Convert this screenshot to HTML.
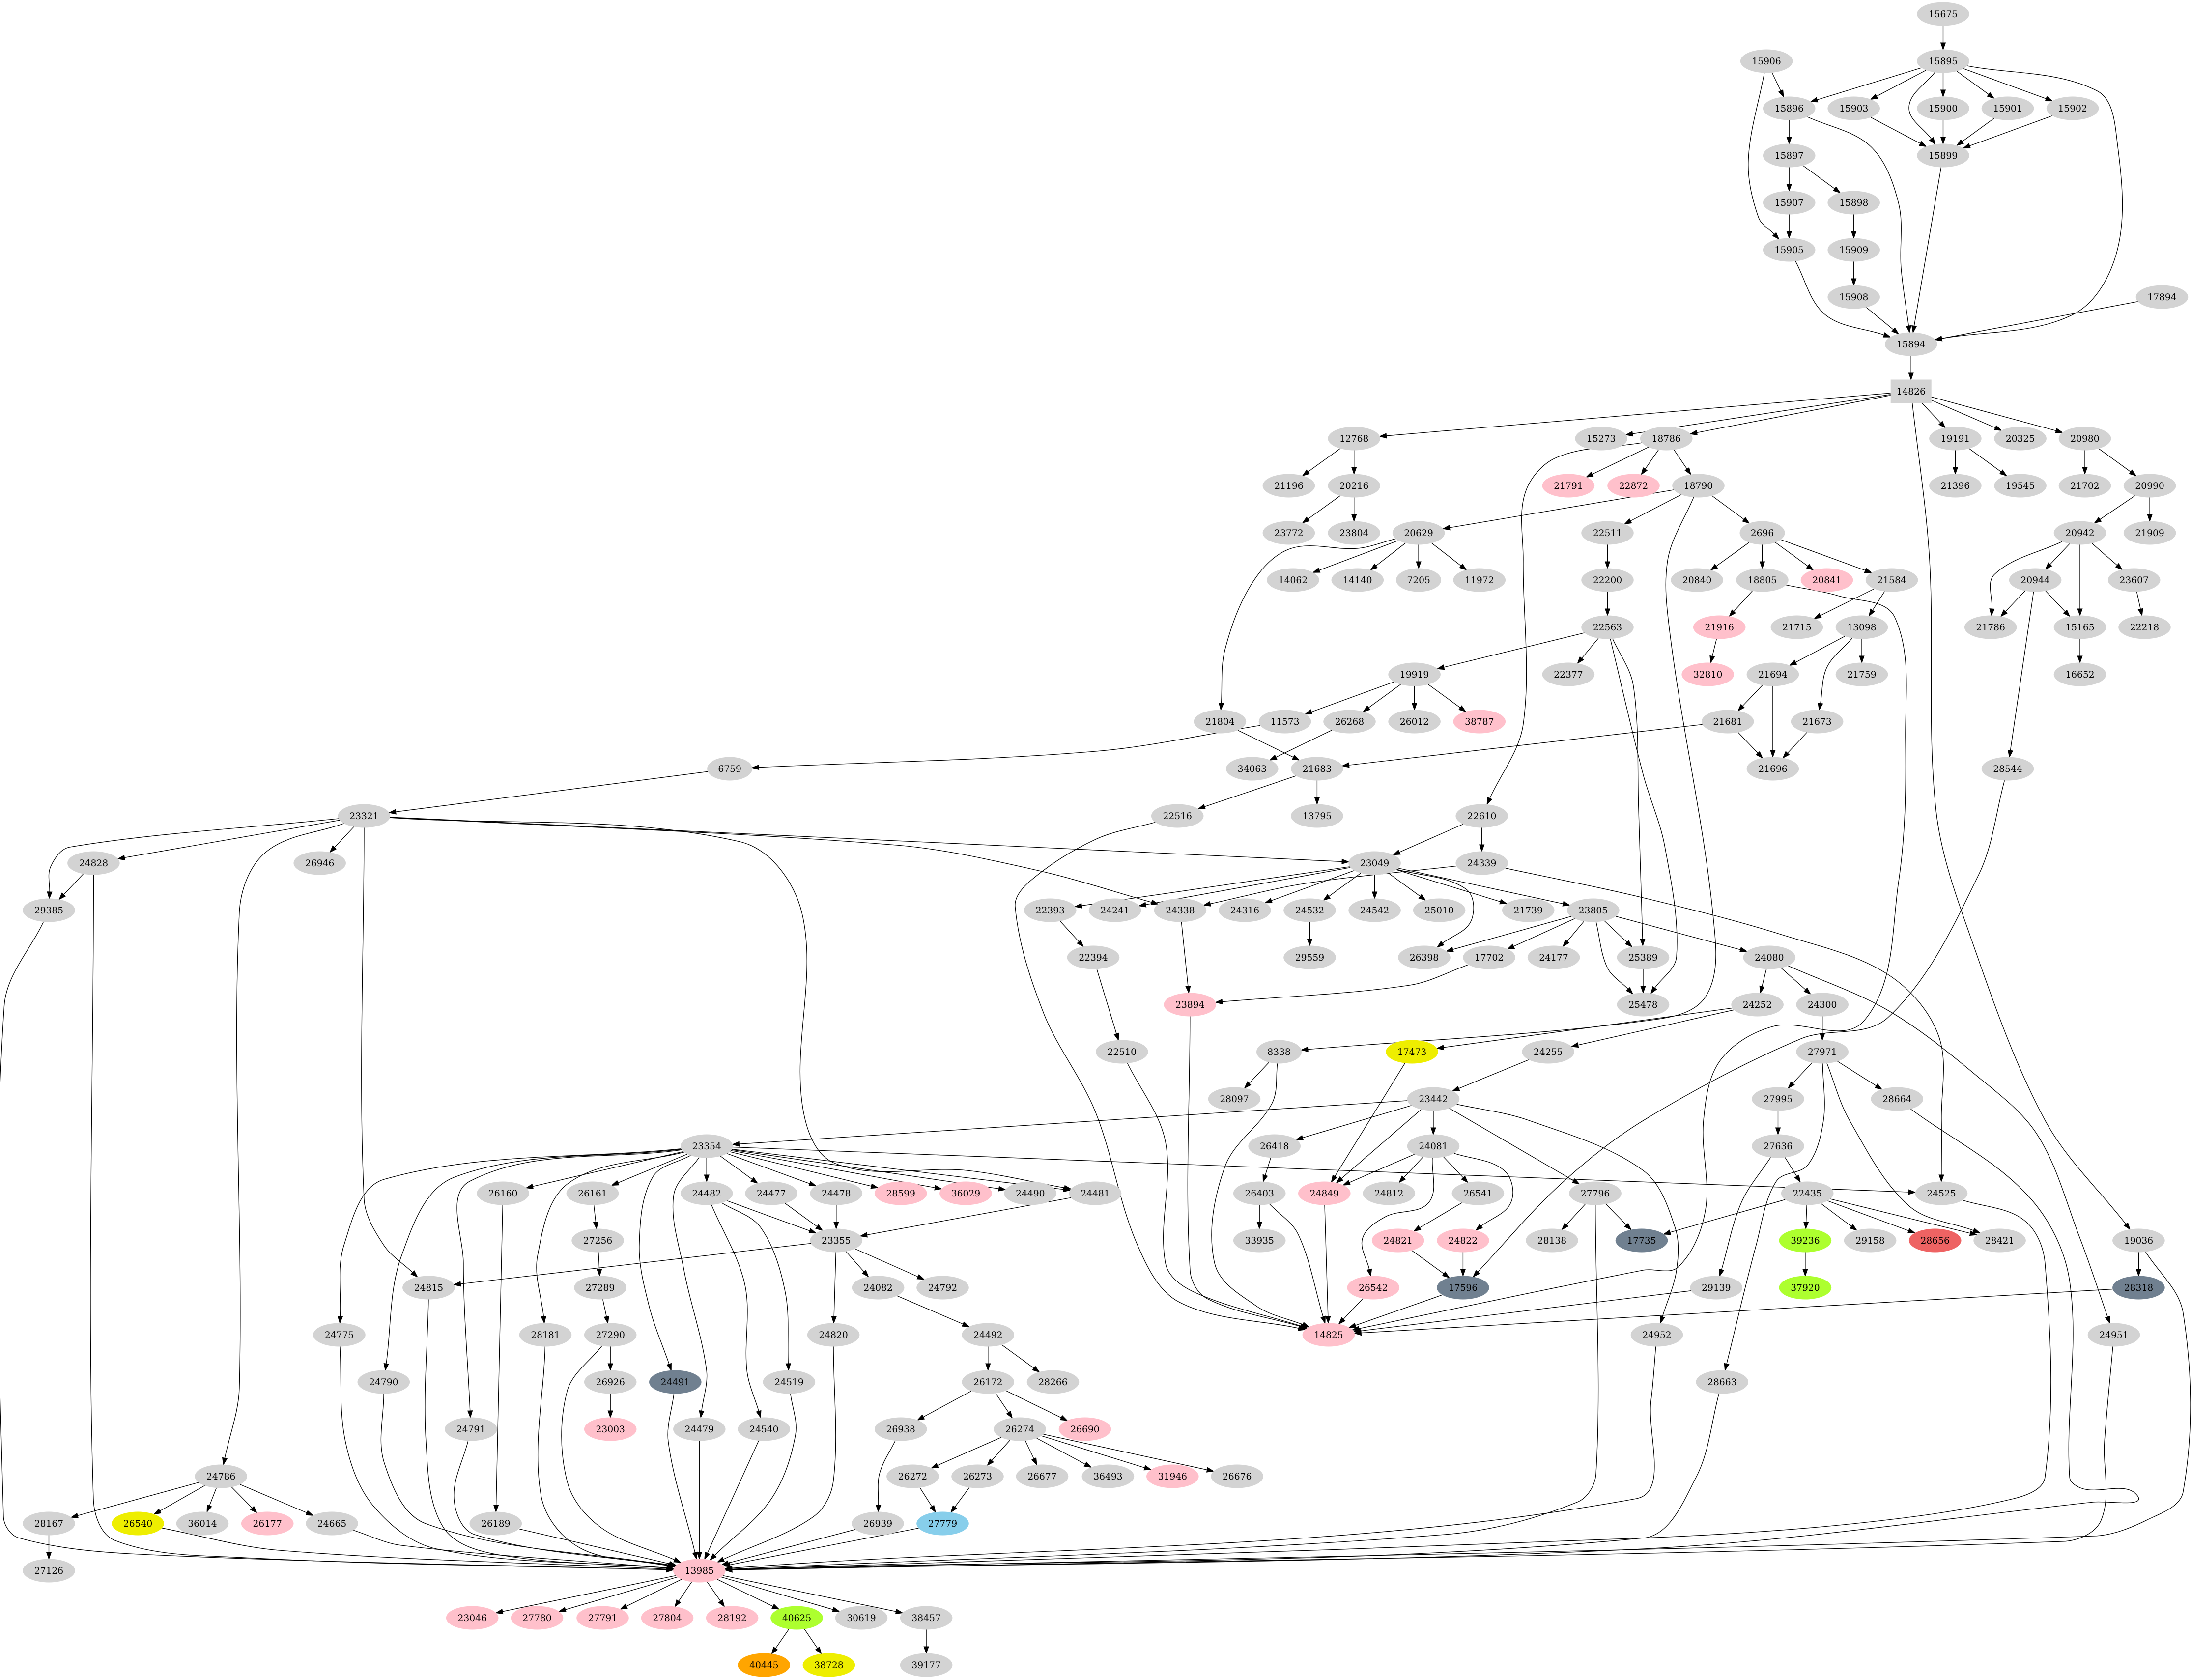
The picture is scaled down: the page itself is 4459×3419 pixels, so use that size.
<!DOCTYPE html>
<html><head><meta charset="utf-8"><style>
html,body{margin:0;padding:0;background:#fff}
svg{display:block}
.g{fill:#d3d3d3}.p{fill:#ffc0cb}.s{fill:#708090}.y{fill:#eeee00}.gr{fill:#adff2f}.r{fill:#ee6363}.b{fill:#87ceeb}.o{fill:#ffa500}
text{font-family:"DejaVu Serif","Liberation Serif",serif;font-size:18.67px;text-anchor:middle;fill:#000}
</style></head><body>
<svg xmlns="http://www.w3.org/2000/svg" width="4459" height="3419" viewBox="0 0 4459 3419">
<rect width="4459" height="3419" fill="#fff"/>
<g id="E" fill="none" stroke="#000" stroke-width="1.33"></g>
<g id="N">
<ellipse id="n15675" class="g" cx="3954.5" cy="28.5" rx="53.3" ry="24"/><text x="3954.5" y="35.2">15675</text>
<ellipse id="n15906" class="g" cx="3595.1" cy="124.5" rx="53.3" ry="24"/><text x="3595.1" y="131.2">15906</text>
<ellipse id="n15895" class="g" cx="3954.5" cy="124.5" rx="53.3" ry="24"/><text x="3954.5" y="131.2">15895</text>
<ellipse id="n15896" class="g" cx="3641.2" cy="220.5" rx="53.3" ry="24"/><text x="3641.2" y="227.2">15896</text>
<ellipse id="n15903" class="g" cx="3772.7" cy="220.5" rx="53.3" ry="24"/><text x="3772.7" y="227.2">15903</text>
<ellipse id="n15900" class="g" cx="3954.5" cy="220.5" rx="53.3" ry="24"/><text x="3954.5" y="227.2">15900</text>
<ellipse id="n15901" class="g" cx="4086" cy="220.5" rx="53.3" ry="24"/><text x="4086" y="227.2">15901</text>
<ellipse id="n15902" class="g" cx="4218.1" cy="220.5" rx="53.3" ry="24"/><text x="4218.1" y="227.2">15902</text>
<ellipse id="n15897" class="g" cx="3641.2" cy="316.5" rx="53.3" ry="24"/><text x="3641.2" y="323.2">15897</text>
<ellipse id="n15899" class="g" cx="3954.5" cy="316.5" rx="53.3" ry="24"/><text x="3954.5" y="323.2">15899</text>
<ellipse id="n15907" class="g" cx="3641.2" cy="412.5" rx="53.3" ry="24"/><text x="3641.2" y="419.2">15907</text>
<ellipse id="n15898" class="g" cx="3772.7" cy="412.5" rx="53.3" ry="24"/><text x="3772.7" y="419.2">15898</text>
<ellipse id="n15905" class="g" cx="3641.2" cy="508.5" rx="53.3" ry="24"/><text x="3641.2" y="515.2">15905</text>
<ellipse id="n15909" class="g" cx="3772.7" cy="508.5" rx="53.3" ry="24"/><text x="3772.7" y="515.2">15909</text>
<ellipse id="n15908" class="g" cx="3772.7" cy="604.5" rx="53.3" ry="24"/><text x="3772.7" y="611.2">15908</text>
<ellipse id="n17894" class="g" cx="4400" cy="604.5" rx="53.3" ry="24"/><text x="4400" y="611.2">17894</text>
<ellipse id="n15894" class="g" cx="3889.2" cy="700.5" rx="53.3" ry="24"/><text x="3889.2" y="707.2">15894</text>
<rect id="n14826" class="g" x="3847.7" y="772.5" width="83" height="48"/><text x="3889.2" y="803.2">14826</text>
<ellipse id="n12768" class="g" cx="2755.7" cy="892.5" rx="53.3" ry="24"/><text x="2755.7" y="899.2">12768</text>
<ellipse id="n15273" class="g" cx="3258.7" cy="892.5" rx="53.3" ry="24"/><text x="3258.7" y="899.2">15273</text>
<ellipse id="n18786" class="g" cx="3391.2" cy="892.5" rx="53.3" ry="24"/><text x="3391.2" y="899.2">18786</text>
<ellipse id="n19191" class="g" cx="3979.4" cy="892.5" rx="53.3" ry="24"/><text x="3979.4" y="899.2">19191</text>
<ellipse id="n20325" class="g" cx="4111.6" cy="892.5" rx="53.3" ry="24"/><text x="4111.6" y="899.2">20325</text>
<ellipse id="n20980" class="g" cx="4243" cy="892.5" rx="53.3" ry="24"/><text x="4243" y="899.2">20980</text>
<ellipse id="n21196" class="g" cx="2622.9" cy="988.5" rx="53.3" ry="24"/><text x="2622.9" y="995.2">21196</text>
<ellipse id="n20216" class="g" cx="2755.7" cy="988.5" rx="53.3" ry="24"/><text x="2755.7" y="995.2">20216</text>
<ellipse id="n21791" class="p" cx="3191.9" cy="988.5" rx="53.3" ry="24"/><text x="3191.9" y="995.2">21791</text>
<ellipse id="n22872" class="p" cx="3324.5" cy="988.5" rx="53.3" ry="24"/><text x="3324.5" y="995.2">22872</text>
<ellipse id="n18790" class="g" cx="3456.5" cy="988.5" rx="53.3" ry="24"/><text x="3456.5" y="995.2">18790</text>
<ellipse id="n21396" class="g" cx="3979.4" cy="988.5" rx="53.3" ry="24"/><text x="3979.4" y="995.2">21396</text>
<ellipse id="n19545" class="g" cx="4111.6" cy="988.5" rx="53.3" ry="24"/><text x="4111.6" y="995.2">19545</text>
<ellipse id="n21702" class="g" cx="4243" cy="988.5" rx="53.3" ry="24"/><text x="4243" y="995.2">21702</text>
<ellipse id="n20990" class="g" cx="4375.1" cy="988.5" rx="53.3" ry="24"/><text x="4375.1" y="995.2">20990</text>
<ellipse id="n23772" class="g" cx="2622.9" cy="1084.5" rx="53.3" ry="24"/><text x="2622.9" y="1091.2">23772</text>
<ellipse id="n23804" class="g" cx="2755.7" cy="1084.5" rx="53.3" ry="24"/><text x="2755.7" y="1091.2">23804</text>
<ellipse id="n20629" class="g" cx="2887.1" cy="1084.5" rx="53.3" ry="24"/><text x="2887.1" y="1091.2">20629</text>
<ellipse id="n22511" class="g" cx="3271.5" cy="1084.5" rx="53.3" ry="24"/><text x="3271.5" y="1091.2">22511</text>
<ellipse id="n2696" class="g" cx="3586.5" cy="1084.5" rx="46" ry="24"/><text x="3586.5" y="1091.2">2696</text>
<ellipse id="n20942" class="g" cx="4233" cy="1084.5" rx="53.3" ry="24"/><text x="4233" y="1091.2">20942</text>
<ellipse id="n21909" class="g" cx="4375.1" cy="1084.5" rx="53.3" ry="24"/><text x="4375.1" y="1091.2">21909</text>
<ellipse id="n14062" class="g" cx="2631.4" cy="1180.5" rx="53.3" ry="24"/><text x="2631.4" y="1187.2">14062</text>
<ellipse id="n14140" class="g" cx="2762.8" cy="1180.5" rx="53.3" ry="24"/><text x="2762.8" y="1187.2">14140</text>
<ellipse id="n7205" class="g" cx="2887.1" cy="1180.5" rx="46" ry="24"/><text x="2887.1" y="1187.2">7205</text>
<ellipse id="n11972" class="g" cx="3010.8" cy="1180.5" rx="53.3" ry="24"/><text x="3010.8" y="1187.2">11972</text>
<ellipse id="n22200" class="g" cx="3271.5" cy="1180.5" rx="53.3" ry="24"/><text x="3271.5" y="1187.2">22200</text>
<ellipse id="n20840" class="g" cx="3453.7" cy="1180.5" rx="53.3" ry="24"/><text x="3453.7" y="1187.2">20840</text>
<ellipse id="n18805" class="g" cx="3586.5" cy="1180.5" rx="53.3" ry="24"/><text x="3586.5" y="1187.2">18805</text>
<ellipse id="n20841" class="p" cx="3718" cy="1180.5" rx="53.3" ry="24"/><text x="3718" y="1187.2">20841</text>
<ellipse id="n21584" class="g" cx="3850.1" cy="1180.5" rx="53.3" ry="24"/><text x="3850.1" y="1187.2">21584</text>
<ellipse id="n20944" class="g" cx="4142.1" cy="1180.5" rx="53.3" ry="24"/><text x="4142.1" y="1187.2">20944</text>
<ellipse id="n23607" class="g" cx="4343.2" cy="1180.5" rx="53.3" ry="24"/><text x="4343.2" y="1187.2">23607</text>
<ellipse id="n22563" class="g" cx="3271.5" cy="1276.5" rx="53.3" ry="24"/><text x="3271.5" y="1283.2">22563</text>
<ellipse id="n21916" class="p" cx="3499.2" cy="1276.5" rx="53.3" ry="24"/><text x="3499.2" y="1283.2">21916</text>
<ellipse id="n21715" class="g" cx="3656.9" cy="1276.5" rx="53.3" ry="24"/><text x="3656.9" y="1283.2">21715</text>
<ellipse id="n13098" class="g" cx="3789" cy="1276.5" rx="53.3" ry="24"/><text x="3789" y="1283.2">13098</text>
<ellipse id="n21786" class="g" cx="4051.2" cy="1276.5" rx="53.3" ry="24"/><text x="4051.2" y="1283.2">21786</text>
<ellipse id="n15165" class="g" cx="4233" cy="1276.5" rx="53.3" ry="24"/><text x="4233" y="1283.2">15165</text>
<ellipse id="n22218" class="g" cx="4364.5" cy="1276.5" rx="53.3" ry="24"/><text x="4364.5" y="1283.2">22218</text>
<ellipse id="n19919" class="g" cx="2878.6" cy="1372.5" rx="53.3" ry="24"/><text x="2878.6" y="1379.2">19919</text>
<ellipse id="n22377" class="g" cx="3191.9" cy="1372.5" rx="53.3" ry="24"/><text x="3191.9" y="1379.2">22377</text>
<ellipse id="n32810" class="p" cx="3475.7" cy="1372.5" rx="53.3" ry="24"/><text x="3475.7" y="1379.2">32810</text>
<ellipse id="n21694" class="g" cx="3607.9" cy="1372.5" rx="53.3" ry="24"/><text x="3607.9" y="1379.2">21694</text>
<ellipse id="n21759" class="g" cx="3789" cy="1372.5" rx="53.3" ry="24"/><text x="3789" y="1379.2">21759</text>
<ellipse id="n16652" class="g" cx="4233" cy="1372.5" rx="53.3" ry="24"/><text x="4233" y="1379.2">16652</text>
<ellipse id="n21804" class="g" cx="2482.9" cy="1468.5" rx="53.3" ry="24"/><text x="2482.9" y="1475.2">21804</text>
<ellipse id="n11573" class="g" cx="2615" cy="1468.5" rx="53.3" ry="24"/><text x="2615" y="1475.2">11573</text>
<ellipse id="n26268" class="g" cx="2746.5" cy="1468.5" rx="53.3" ry="24"/><text x="2746.5" y="1475.2">26268</text>
<ellipse id="n26012" class="g" cx="2878.6" cy="1468.5" rx="53.3" ry="24"/><text x="2878.6" y="1475.2">26012</text>
<ellipse id="n38787" class="p" cx="3010.8" cy="1468.5" rx="53.3" ry="24"/><text x="3010.8" y="1475.2">38787</text>
<ellipse id="n21681" class="g" cx="3516.2" cy="1468.5" rx="53.3" ry="24"/><text x="3516.2" y="1475.2">21681</text>
<ellipse id="n21673" class="g" cx="3698.1" cy="1468.5" rx="53.3" ry="24"/><text x="3698.1" y="1475.2">21673</text>
<ellipse id="n6759" class="g" cx="1485.1" cy="1564.5" rx="46" ry="24"/><text x="1485.1" y="1571.2">6759</text>
<ellipse id="n34063" class="g" cx="2548.3" cy="1564.5" rx="53.3" ry="24"/><text x="2548.3" y="1571.2">34063</text>
<ellipse id="n21683" class="g" cx="2680.4" cy="1564.5" rx="53.3" ry="24"/><text x="2680.4" y="1571.2">21683</text>
<ellipse id="n21696" class="g" cx="3607.9" cy="1564.5" rx="53.3" ry="24"/><text x="3607.9" y="1571.2">21696</text>
<ellipse id="n28544" class="g" cx="4086" cy="1564.5" rx="53.3" ry="24"/><text x="4086" y="1571.2">28544</text>
<ellipse id="n23321" class="g" cx="741" cy="1660.5" rx="53.3" ry="24"/><text x="741" y="1667.2">23321</text>
<ellipse id="n22516" class="g" cx="2396.2" cy="1660.5" rx="53.3" ry="24"/><text x="2396.2" y="1667.2">22516</text>
<ellipse id="n13795" class="g" cx="2680.4" cy="1660.5" rx="53.3" ry="24"/><text x="2680.4" y="1667.2">13795</text>
<ellipse id="n22610" class="g" cx="3015.7" cy="1660.5" rx="53.3" ry="24"/><text x="3015.7" y="1667.2">22610</text>
<ellipse id="n24828" class="g" cx="190.4" cy="1756.5" rx="53.3" ry="24"/><text x="190.4" y="1763.2">24828</text>
<ellipse id="n26946" class="g" cx="650.7" cy="1756.5" rx="53.3" ry="24"/><text x="650.7" y="1763.2">26946</text>
<ellipse id="n23049" class="g" cx="2797.6" cy="1756.5" rx="53.3" ry="24"/><text x="2797.6" y="1763.2">23049</text>
<ellipse id="n24339" class="g" cx="3015.7" cy="1756.5" rx="53.3" ry="24"/><text x="3015.7" y="1763.2">24339</text>
<ellipse id="n29385" class="g" cx="99.5" cy="1852.5" rx="53.3" ry="24"/><text x="99.5" y="1859.2">29385</text>
<ellipse id="n22393" class="g" cx="2137.3" cy="1852.5" rx="53.3" ry="24"/><text x="2137.3" y="1859.2">22393</text>
<ellipse id="n24241" class="g" cx="2269.1" cy="1852.5" rx="53.3" ry="24"/><text x="2269.1" y="1859.2">24241</text>
<ellipse id="n24338" class="g" cx="2401.9" cy="1852.5" rx="53.3" ry="24"/><text x="2401.9" y="1859.2">24338</text>
<ellipse id="n24316" class="g" cx="2533.4" cy="1852.5" rx="53.3" ry="24"/><text x="2533.4" y="1859.2">24316</text>
<ellipse id="n24532" class="g" cx="2665.5" cy="1852.5" rx="53.3" ry="24"/><text x="2665.5" y="1859.2">24532</text>
<ellipse id="n24542" class="g" cx="2797.6" cy="1852.5" rx="53.3" ry="24"/><text x="2797.6" y="1859.2">24542</text>
<ellipse id="n25010" class="g" cx="2929.1" cy="1852.5" rx="53.3" ry="24"/><text x="2929.1" y="1859.2">25010</text>
<ellipse id="n21739" class="g" cx="3110.2" cy="1852.5" rx="53.3" ry="24"/><text x="3110.2" y="1859.2">21739</text>
<ellipse id="n23805" class="g" cx="3242.4" cy="1852.5" rx="53.3" ry="24"/><text x="3242.4" y="1859.2">23805</text>
<ellipse id="n22394" class="g" cx="2225" cy="1948.5" rx="53.3" ry="24"/><text x="2225" y="1955.2">22394</text>
<ellipse id="n29559" class="g" cx="2665.5" cy="1948.5" rx="53.3" ry="24"/><text x="2665.5" y="1955.2">29559</text>
<ellipse id="n26398" class="g" cx="2898.5" cy="1948.5" rx="53.3" ry="24"/><text x="2898.5" y="1955.2">26398</text>
<ellipse id="n17702" class="g" cx="3030.6" cy="1948.5" rx="53.3" ry="24"/><text x="3030.6" y="1955.2">17702</text>
<ellipse id="n24177" class="g" cx="3162.1" cy="1948.5" rx="53.3" ry="24"/><text x="3162.1" y="1955.2">24177</text>
<ellipse id="n25389" class="g" cx="3344" cy="1948.5" rx="53.3" ry="24"/><text x="3344" y="1955.2">25389</text>
<ellipse id="n24080" class="g" cx="3600.8" cy="1948.5" rx="53.3" ry="24"/><text x="3600.8" y="1955.2">24080</text>
<ellipse id="n23894" class="p" cx="2421.8" cy="2044.5" rx="53.3" ry="24"/><text x="2421.8" y="2051.2">23894</text>
<ellipse id="n25478" class="g" cx="3344" cy="2044.5" rx="53.3" ry="24"/><text x="3344" y="2051.2">25478</text>
<ellipse id="n24252" class="g" cx="3576.6" cy="2044.5" rx="53.3" ry="24"/><text x="3576.6" y="2051.2">24252</text>
<ellipse id="n24300" class="g" cx="3708.7" cy="2044.5" rx="53.3" ry="24"/><text x="3708.7" y="2051.2">24300</text>
<ellipse id="n22510" class="g" cx="2283.3" cy="2140.5" rx="53.3" ry="24"/><text x="2283.3" y="2147.2">22510</text>
<ellipse id="n8338" class="g" cx="2603" cy="2140.5" rx="46" ry="24"/><text x="2603" y="2147.2">8338</text>
<ellipse id="n17473" class="y" cx="2873.6" cy="2140.5" rx="53.3" ry="24"/><text x="2873.6" y="2147.2">17473</text>
<ellipse id="n24255" class="g" cx="3150.7" cy="2140.5" rx="53.3" ry="24"/><text x="3150.7" y="2147.2">24255</text>
<ellipse id="n27971" class="g" cx="3708.7" cy="2140.5" rx="53.3" ry="24"/><text x="3708.7" y="2147.2">27971</text>
<ellipse id="n28097" class="g" cx="2512" cy="2236.5" rx="53.3" ry="24"/><text x="2512" y="2243.2">28097</text>
<ellipse id="n23442" class="g" cx="2917" cy="2236.5" rx="53.3" ry="24"/><text x="2917" y="2243.2">23442</text>
<ellipse id="n27995" class="g" cx="3618.5" cy="2236.5" rx="53.3" ry="24"/><text x="3618.5" y="2243.2">27995</text>
<ellipse id="n28664" class="g" cx="3860.8" cy="2236.5" rx="53.3" ry="24"/><text x="3860.8" y="2243.2">28664</text>
<ellipse id="n23354" class="g" cx="1438.2" cy="2332.5" rx="53.3" ry="24"/><text x="1438.2" y="2339.2">23354</text>
<ellipse id="n26418" class="g" cx="2593.7" cy="2332.5" rx="53.3" ry="24"/><text x="2593.7" y="2339.2">26418</text>
<ellipse id="n24081" class="g" cx="2917" cy="2332.5" rx="53.3" ry="24"/><text x="2917" y="2339.2">24081</text>
<ellipse id="n27636" class="g" cx="3618.5" cy="2332.5" rx="53.3" ry="24"/><text x="3618.5" y="2339.2">27636</text>
<ellipse id="n26160" class="g" cx="1023.7" cy="2428.5" rx="53.3" ry="24"/><text x="1023.7" y="2435.2">26160</text>
<ellipse id="n26161" class="g" cx="1205.9" cy="2428.5" rx="53.3" ry="24"/><text x="1205.9" y="2435.2">26161</text>
<ellipse id="n24482" class="g" cx="1438.2" cy="2428.5" rx="53.3" ry="24"/><text x="1438.2" y="2435.2">24482</text>
<ellipse id="n24477" class="g" cx="1569.7" cy="2428.5" rx="53.3" ry="24"/><text x="1569.7" y="2435.2">24477</text>
<ellipse id="n24478" class="g" cx="1701.8" cy="2428.5" rx="53.3" ry="24"/><text x="1701.8" y="2435.2">24478</text>
<ellipse id="n28599" class="p" cx="1833.2" cy="2428.5" rx="53.3" ry="24"/><text x="1833.2" y="2435.2">28599</text>
<ellipse id="n36029" class="p" cx="1965.4" cy="2428.5" rx="53.3" ry="24"/><text x="1965.4" y="2435.2">36029</text>
<ellipse id="n24490" class="g" cx="2096.8" cy="2428.5" rx="53.3" ry="24"/><text x="2096.8" y="2435.2">24490</text>
<ellipse id="n24481" class="g" cx="2229" cy="2428.5" rx="53.3" ry="24"/><text x="2229" y="2435.2">24481</text>
<ellipse id="n26403" class="g" cx="2563.2" cy="2428.5" rx="53.3" ry="24"/><text x="2563.2" y="2435.2">26403</text>
<ellipse id="n24849" class="p" cx="2695.3" cy="2428.5" rx="53.3" ry="24"/><text x="2695.3" y="2435.2">24849</text>
<ellipse id="n24812" class="g" cx="2826.8" cy="2428.5" rx="53.3" ry="24"/><text x="2826.8" y="2435.2">24812</text>
<ellipse id="n26541" class="g" cx="3007.9" cy="2428.5" rx="53.3" ry="24"/><text x="3007.9" y="2435.2">26541</text>
<ellipse id="n27796" class="g" cx="3246.6" cy="2428.5" rx="53.3" ry="24"/><text x="3246.6" y="2435.2">27796</text>
<ellipse id="n22435" class="g" cx="3678.2" cy="2428.5" rx="53.3" ry="24"/><text x="3678.2" y="2435.2">22435</text>
<ellipse id="n24525" class="g" cx="3951" cy="2428.5" rx="53.3" ry="24"/><text x="3951" y="2435.2">24525</text>
<ellipse id="n27256" class="g" cx="1216.6" cy="2524.5" rx="53.3" ry="24"/><text x="1216.6" y="2531.2">27256</text>
<ellipse id="n23355" class="g" cx="1701.8" cy="2524.5" rx="53.3" ry="24"/><text x="1701.8" y="2531.2">23355</text>
<ellipse id="n33935" class="g" cx="2563.2" cy="2524.5" rx="53.3" ry="24"/><text x="2563.2" y="2531.2">33935</text>
<ellipse id="n24821" class="p" cx="2845.2" cy="2524.5" rx="53.3" ry="24"/><text x="2845.2" y="2531.2">24821</text>
<ellipse id="n24822" class="p" cx="2977.4" cy="2524.5" rx="53.3" ry="24"/><text x="2977.4" y="2531.2">24822</text>
<ellipse id="n28138" class="g" cx="3158.5" cy="2524.5" rx="53.3" ry="24"/><text x="3158.5" y="2531.2">28138</text>
<ellipse id="n17735" class="s" cx="3341" cy="2524.5" rx="53.3" ry="24"/><text x="3341" y="2531.2">17735</text>
<ellipse id="n39236" class="gr" cx="3673.9" cy="2524.5" rx="53.3" ry="24"/><text x="3673.9" y="2531.2">39236</text>
<ellipse id="n29158" class="g" cx="3806.1" cy="2524.5" rx="53.3" ry="24"/><text x="3806.1" y="2531.2">29158</text>
<ellipse id="n28656" class="r" cx="3938.2" cy="2524.5" rx="53.3" ry="24"/><text x="3938.2" y="2531.2">28656</text>
<ellipse id="n28421" class="g" cx="4069.6" cy="2524.5" rx="53.3" ry="24"/><text x="4069.6" y="2531.2">28421</text>
<ellipse id="n19036" class="g" cx="4352.4" cy="2524.5" rx="53.3" ry="24"/><text x="4352.4" y="2531.2">19036</text>
<ellipse id="n24815" class="g" cx="872.4" cy="2620.5" rx="53.3" ry="24"/><text x="872.4" y="2627.2">24815</text>
<ellipse id="n27289" class="g" cx="1221.6" cy="2620.5" rx="53.3" ry="24"/><text x="1221.6" y="2627.2">27289</text>
<ellipse id="n24082" class="g" cx="1787.1" cy="2620.5" rx="53.3" ry="24"/><text x="1787.1" y="2627.2">24082</text>
<ellipse id="n24792" class="g" cx="1918.5" cy="2620.5" rx="53.3" ry="24"/><text x="1918.5" y="2627.2">24792</text>
<ellipse id="n26542" class="p" cx="2794.8" cy="2620.5" rx="53.3" ry="24"/><text x="2794.8" y="2627.2">26542</text>
<ellipse id="n17596" class="s" cx="2977.4" cy="2620.5" rx="53.3" ry="24"/><text x="2977.4" y="2627.2">17596</text>
<ellipse id="n29139" class="g" cx="3492.8" cy="2620.5" rx="53.3" ry="24"/><text x="3492.8" y="2627.2">29139</text>
<ellipse id="n37920" class="gr" cx="3673.9" cy="2620.5" rx="53.3" ry="24"/><text x="3673.9" y="2627.2">37920</text>
<ellipse id="n28318" class="s" cx="4352.4" cy="2620.5" rx="53.3" ry="24"/><text x="4352.4" y="2627.2">28318</text>
<ellipse id="n24775" class="g" cx="690.5" cy="2716.5" rx="53.3" ry="24"/><text x="690.5" y="2723.2">24775</text>
<ellipse id="n28181" class="g" cx="1110" cy="2716.5" rx="53.3" ry="24"/><text x="1110" y="2723.2">28181</text>
<ellipse id="n27290" class="g" cx="1242.2" cy="2716.5" rx="53.3" ry="24"/><text x="1242.2" y="2723.2">27290</text>
<ellipse id="n24820" class="g" cx="1696.1" cy="2716.5" rx="53.3" ry="24"/><text x="1696.1" y="2723.2">24820</text>
<ellipse id="n24492" class="g" cx="2010.8" cy="2716.5" rx="53.3" ry="24"/><text x="2010.8" y="2723.2">24492</text>
<ellipse id="n14825" class="p" cx="2703.9" cy="2716.5" rx="53.3" ry="24"/><text x="2703.9" y="2723.2">14825</text>
<ellipse id="n24952" class="g" cx="3372" cy="2716.5" rx="53.3" ry="24"/><text x="3372" y="2723.2">24952</text>
<ellipse id="n24951" class="g" cx="4302" cy="2716.5" rx="53.3" ry="24"/><text x="4302" y="2723.2">24951</text>
<ellipse id="n24790" class="g" cx="780.8" cy="2812.5" rx="53.3" ry="24"/><text x="780.8" y="2819.2">24790</text>
<ellipse id="n26926" class="g" cx="1242.2" cy="2812.5" rx="53.3" ry="24"/><text x="1242.2" y="2819.2">26926</text>
<ellipse id="n24491" class="s" cx="1374.3" cy="2812.5" rx="53.3" ry="24"/><text x="1374.3" y="2819.2">24491</text>
<ellipse id="n24519" class="g" cx="1605.9" cy="2812.5" rx="53.3" ry="24"/><text x="1605.9" y="2819.2">24519</text>
<ellipse id="n26172" class="g" cx="2010.8" cy="2812.5" rx="53.3" ry="24"/><text x="2010.8" y="2819.2">26172</text>
<ellipse id="n28266" class="g" cx="2143" cy="2812.5" rx="53.3" ry="24"/><text x="2143" y="2819.2">28266</text>
<ellipse id="n28663" class="g" cx="3504.8" cy="2812.5" rx="53.3" ry="24"/><text x="3504.8" y="2819.2">28663</text>
<ellipse id="n24791" class="g" cx="958.4" cy="2908.5" rx="53.3" ry="24"/><text x="958.4" y="2915.2">24791</text>
<ellipse id="n23003" class="p" cx="1242.2" cy="2908.5" rx="53.3" ry="24"/><text x="1242.2" y="2915.2">23003</text>
<ellipse id="n24479" class="g" cx="1423.3" cy="2908.5" rx="53.3" ry="24"/><text x="1423.3" y="2915.2">24479</text>
<ellipse id="n24540" class="g" cx="1554.8" cy="2908.5" rx="53.3" ry="24"/><text x="1554.8" y="2915.2">24540</text>
<ellipse id="n26938" class="g" cx="1833.2" cy="2908.5" rx="53.3" ry="24"/><text x="1833.2" y="2915.2">26938</text>
<ellipse id="n26274" class="g" cx="2075.5" cy="2908.5" rx="53.3" ry="24"/><text x="2075.5" y="2915.2">26274</text>
<ellipse id="n26690" class="p" cx="2208" cy="2908.5" rx="53.3" ry="24"/><text x="2208" y="2915.2">26690</text>
<ellipse id="n24786" class="g" cx="449.7" cy="3004.5" rx="53.3" ry="24"/><text x="449.7" y="3011.2">24786</text>
<ellipse id="n26272" class="g" cx="1857.4" cy="3004.5" rx="53.3" ry="24"/><text x="1857.4" y="3011.2">26272</text>
<ellipse id="n26273" class="g" cx="1989.5" cy="3004.5" rx="53.3" ry="24"/><text x="1989.5" y="3011.2">26273</text>
<ellipse id="n26677" class="g" cx="2121" cy="3004.5" rx="53.3" ry="24"/><text x="2121" y="3011.2">26677</text>
<ellipse id="n36493" class="g" cx="2254.9" cy="3004.5" rx="53.3" ry="24"/><text x="2254.9" y="3011.2">36493</text>
<ellipse id="n31946" class="p" cx="2386.3" cy="3004.5" rx="53.3" ry="24"/><text x="2386.3" y="3011.2">31946</text>
<ellipse id="n26676" class="g" cx="2517.7" cy="3004.5" rx="53.3" ry="24"/><text x="2517.7" y="3011.2">26676</text>
<ellipse id="n28167" class="g" cx="99.5" cy="3100.5" rx="53.3" ry="24"/><text x="99.5" y="3107.2">28167</text>
<ellipse id="n26540" class="y" cx="280.6" cy="3100.5" rx="53.3" ry="24"/><text x="280.6" y="3107.2">26540</text>
<ellipse id="n36014" class="g" cx="412" cy="3100.5" rx="53.3" ry="24"/><text x="412" y="3107.2">36014</text>
<ellipse id="n26177" class="p" cx="544.2" cy="3100.5" rx="53.3" ry="24"/><text x="544.2" y="3107.2">26177</text>
<ellipse id="n24665" class="g" cx="675.6" cy="3100.5" rx="53.3" ry="24"/><text x="675.6" y="3107.2">24665</text>
<ellipse id="n26189" class="g" cx="1008.8" cy="3100.5" rx="53.3" ry="24"/><text x="1008.8" y="3107.2">26189</text>
<ellipse id="n26939" class="g" cx="1786.4" cy="3100.5" rx="53.3" ry="24"/><text x="1786.4" y="3107.2">26939</text>
<ellipse id="n27779" class="b" cx="1918.5" cy="3100.5" rx="53.3" ry="24"/><text x="1918.5" y="3107.2">27779</text>
<ellipse id="n27126" class="g" cx="99.5" cy="3196.5" rx="53.3" ry="24"/><text x="99.5" y="3203.2">27126</text>
<ellipse id="n13985" class="p" cx="1423.3" cy="3196.5" rx="53.3" ry="24"/><text x="1423.3" y="3203.2">13985</text>
<ellipse id="n23046" class="p" cx="961.2" cy="3292.5" rx="53.3" ry="24"/><text x="961.2" y="3299.2">23046</text>
<ellipse id="n27780" class="p" cx="1093" cy="3292.5" rx="53.3" ry="24"/><text x="1093" y="3299.2">27780</text>
<ellipse id="n27791" class="p" cx="1226.5" cy="3292.5" rx="53.3" ry="24"/><text x="1226.5" y="3299.2">27791</text>
<ellipse id="n27804" class="p" cx="1358" cy="3292.5" rx="53.3" ry="24"/><text x="1358" y="3299.2">27804</text>
<ellipse id="n28192" class="p" cx="1490.1" cy="3292.5" rx="53.3" ry="24"/><text x="1490.1" y="3299.2">28192</text>
<ellipse id="n40625" class="gr" cx="1621.5" cy="3292.5" rx="53.3" ry="24"/><text x="1621.5" y="3299.2">40625</text>
<ellipse id="n30619" class="g" cx="1753" cy="3292.5" rx="53.3" ry="24"/><text x="1753" y="3299.2">30619</text>
<ellipse id="n38457" class="g" cx="1885.1" cy="3292.5" rx="53.3" ry="24"/><text x="1885.1" y="3299.2">38457</text>
<ellipse id="n40445" class="o" cx="1554.8" cy="3388.5" rx="53.3" ry="24"/><text x="1554.8" y="3395.2">40445</text>
<ellipse id="n38728" class="y" cx="1686.9" cy="3388.5" rx="53.3" ry="24"/><text x="1686.9" y="3395.2">38728</text>
<ellipse id="n39177" class="g" cx="1885.1" cy="3388.5" rx="53.3" ry="24"/><text x="1885.1" y="3395.2">39177</text>
</g>
</svg>
<script>
(function(){
var NS='http://www.w3.org/2000/svg',E=document.getElementById('E');
function G(id){var e=document.getElementById('n'+id);if(!e)return null;
 if(e.tagName.toLowerCase()==='rect'){var x=+e.getAttribute('x'),y=+e.getAttribute('y'),w=+e.getAttribute('width'),h=+e.getAttribute('height');return{x:x+w/2,y:y+h/2,box:1,hw:w/2,hh:h/2};}
 return{x:+e.getAttribute('cx'),y:+e.getAttribute('cy'),rx:+e.getAttribute('rx'),ry:+e.getAttribute('ry')};}
function bd(n,dx,dy){var L=Math.sqrt(dx*dx+dy*dy)||1;dx/=L;dy/=L;var t;
 if(n.box){t=Math.min(Math.abs(dx)>1e-6?n.hw/Math.abs(dx):1e9,Math.abs(dy)>1e-6?n.hh/Math.abs(dy):1e9);}
 else t=1/Math.sqrt((dx/n.rx)*(dx/n.rx)+(dy/n.ry)*(dy/n.ry));
 return[n.x+dx*t,n.y+dy*t];}
function f(v){return v.toFixed(1);}
function un(a,b){var x=b[0]-a[0],y=b[1]-a[1],L=Math.sqrt(x*x+y*y)||1;return[x/L,y/L];}
function ed(a,b,w){w=w||[];var A=G(a),B=G(b);if(!A||!B)return;
 var fp=w.length?w[0]:[B.x,B.y],lp=w.length?w[w.length-1]:[A.x,A.y];
 var s=bd(A,fp[0]-A.x,fp[1]-A.y),t=bd(B,lp[0]-B.x,lp[1]-B.y);
 var ux,uy;if(w.length){ux=t[0]-lp[0];uy=t[1]-lp[1];}else{ux=t[0]-s[0];uy=t[1]-s[1];}
 var L=Math.sqrt(ux*ux+uy*uy)||1;ux/=L;uy/=L;
 var bs=[t[0]-ux*13.3,t[1]-uy*13.3];
 var P=[s].concat(w,[bs]);var d='M'+f(P[0][0])+','+f(P[0][1]);
 for(var i=0;i<P.length-1;i++){var p0=P[i-1]||P[i],p1=P[i],p2=P[i+1],p3=P[i+2]||P[i+1];
  var dx=p2[0]-p1[0],dy=p2[1]-p1[1],dl=Math.sqrt(dx*dx+dy*dy)/3;
  var T1=un(p0,p2),T2=un(p1,p3);
  d+='C'+f(p1[0]+T1[0]*dl)+','+f(p1[1]+T1[1]*dl)+' '+f(p2[0]-T2[0]*dl)+','+f(p2[1]-T2[1]*dl)+' '+f(p2[0])+','+f(p2[1]);}
 var pa=document.createElementNS(NS,'path');pa.setAttribute('d',d);E.appendChild(pa);
 var px=-uy*4.7,py=ux*4.7;
 var pg=document.createElementNS(NS,'polygon');
 pg.setAttribute('points',f(t[0])+','+f(t[1])+' '+f(bs[0]+px)+','+f(bs[1]+py)+' '+f(bs[0]-px)+','+f(bs[1]-py));
 pg.setAttribute('fill','#000');E.appendChild(pg);}
var D=[
['15675','15895'],['15895','15896'],['15895','15903'],['15895','15899',[[3885,218]]],['15895','15900'],['15895','15901'],['15895','15902'],
['15895','15894',[[4268,185],[4309,291],[4309,509],[4219,640]]],
['15906','15896'],['15906','15905',[[3558,327],[3579,443]]],
['15896','15897'],['15896','15894',[[3807,298],[3864,414],[3869,545]]],
['15903','15899'],['15900','15899'],['15901','15899'],['15902','15899'],
['15897','15907'],['15897','15898'],['15907','15905'],['15898','15909'],['15909','15908'],
['15905','15894',[[3714,640]]],['15908','15894'],['15899','15894'],['17894','15894'],
['15894','14826'],
['14826','12768'],['14826','15273'],['14826','18786'],['14826','19191'],['14826','20325'],['14826','20980'],
['14826','19036',[[3927,1140],[3940,1649],[4009,1903],[4162,2280]]],
['12768','21196'],['12768','20216'],['20216','23772'],['20216','23804'],
['18786','21791'],['18786','22872'],['18786','18790'],
['18786','22610',[[3168,931],[3104,1003],[3100,1140],[3100,1474]]],
['18790','20629'],['18790','22511'],['18790','2696'],
['18790','8338',[[3394,1140],[3400,1300],[3487,1870],[3470,2030],[3345,2078]]],
['19191','21396'],['19191','19545'],['20980','21702'],['20980','20990'],['20990','20942'],['20990','21909'],
['20629','21804',[[2763,1116],[2628,1116],[2550,1184],[2493,1322]]],
['20629','14062'],['20629','14140'],['20629','7205'],['20629','11972'],
['22511','22200'],['22200','22563'],
['2696','20840'],['2696','18805'],['2696','20841'],['2696','21584'],
['20942','21786',[[4059,1169]]],['20942','20944'],['20942','15165'],['20942','23607'],
['20944','21786'],['20944','15165'],['20944','28544'],['23607','22218'],['15165','16652'],
['22563','19919'],['22563','22377'],
['22563','25389',[[3324,1395],[3335,1649]]],
['22563','25478',[[3344,1576],[3388,1722],[3412,1947]]],
['18805','21916'],['21916','32810'],
['18805','14825',[[3743,1213],[3856,1256],[3878,1504],[3864,1794],[3793,2078],[3608,2089],[3501,2158],[3467,2280],[3471,2462],[3416,2578],[3344,2585]]],
['21584','21715'],['21584','13098'],['13098','21694'],['13098','21759'],['13098','21673',[[3718,1358]]],
['21694','21681'],['21694','21696'],['21681','21696'],['21673','21696'],['21681','21683'],
['19919','11573'],['19919','26268'],['19919','26012'],['19919','38787'],
['26268','34063'],['21804','21683'],['11573','6759',[[2230,1529]]],['6759','23321'],
['21683','22516'],['21683','13795'],['22610','23049'],['22610','24339'],
['28544','17596',[[4027,1780],[3842,2071],[3665,2114],[3345,2280],[3175,2411]]],
['23321','29385',[[142,1724],[103,1764]]],['23321','24828'],['23321','26946'],
['23321','24786',[[540,1735],[487,1858],[487,2825]]],
['23321','24815',[[741,2440],[781,2534]]],
['23321','23049'],
['23321','24338',[[1825,1720],[2110,1771]]],
['23321','24481',[[1506,1713],[1632,1858],[1632,2243],[1698,2367],[1968,2382]]],
['24828','29385'],
['24828','13985',[[190,3050],[234,3135],[497,3170]]],
['29385','13985',[[8.5,2047],[7,3086],[39,3130],[284,3163]]],
['23049','24241'],['23049','24316'],['23049','24532'],['23049','24542'],['23049','25010'],['23049','21739'],['23049','23805'],['23049','22393'],
['23049','26398',[[2983,1809],[2994,1874]]],
['24339','24338',[[2656,1798]]],
['24339','24525',[[3344,1827],[3629,1903],[3842,1983],[3945,2107],[3951,2280]]],
['22393','22394'],['22394','22510'],['24532','29559'],
['23805','26398'],['23805','17702'],['23805','24177'],['23805','25389'],['23805','25478',[[3271,1969]]],['23805','24080'],
['25389','25478'],['24338','23894'],['17702','23894',[[2869,2005]]],
['23894','14825',[[2422,2585],[2457,2643]]],
['22510','14825',[[2372,2324],[2372,2571],[2429,2629]]],
['22516','14825',[[2230,1708],[2100,1790],[2066,1845],[2124,2062],[2229,2262],[2315,2534],[2400,2650]]],
['8338','28097'],
['8338','14825',[[2589,2245],[2493,2374],[2472,2571],[2557,2658]]],
['24080','24252'],['24080','24300'],
['24080','24951',[[3842,2056],[4020,2187],[4146,2309],[4233,2520]]],
['24252','17473'],['24252','24255'],['24300','27971'],['17473','24849'],['24255','23442'],
['27971','27995'],['27971','28664'],
['27971','28663',[[3711,2280],[3679,2371],[3615,2404],[3574,2534]]],
['27971','28421',[[3764,2280],[3885,2454]]],
['27995','27636'],
['28664','13985',[[4127,2433],[4212,2607],[4212,3006],[4240,3030],[4350,3044],[4260,3057],[3345,3152]]],
['23442','23354'],['23442','26418'],['23442','24081'],['23442','24849'],['23442','27796'],
['23442','24952',[[3111,2280],[3344,2382],[3409,2498],[3412,2585]]],
['24081','24849'],['24081','24812'],['24081','26541'],
['24081','24822',[[3061,2382],[3075,2447]]],
['24081','26542',[[2908,2447],[2820,2476],[2773,2520]]],
['27636','22435'],['27636','29139',[[3544,2447]]],
['26418','26403'],['26403','33935'],['26403','14825',[[2642,2512]]],
['24849','14825'],['26541','24821'],['24821','17596'],['24822','17596'],['26542','14825'],['17596','14825'],
['27796','28138'],['27796','17735'],
['27796','13985',[[3248,2999],[3210,3057],[2940,3123]]],
['22435','17735'],['22435','39236'],['22435','29158'],['22435','28656'],['22435','28421'],['39236','37920'],
['24525','13985',[[4119,2483],[4162,2571],[4162,3006],[4098,3050],[3771,3101],[3345,3130]]],
['19036','28318'],
['19036','13985',[[4443,2672],[4443,3036],[4368,3094],[4261,3126]]],
['28318','14825'],['29139','14825'],
['24952','13985',[[3360,2850],[3330,3050]]],
['24951','13985',[[4283,2934],[4276,3094],[4198,3137]]],
['28663','13985',[[3452,3006],[3345,3130]]],
['23354','26160'],['23354','26161'],
['23354','24775',[[782,2400],[700,2534]]],
['23354','24790',[[924,2396],[817,2556]]],
['23354','24791',[[956,2404],[943,2571]]],
['23354','28181',[[1158,2407],[1094,2556]]],
['23354','24491',[[1328,2396],[1301,2534],[1321,2658]]],
['23354','24479',[[1371,2433],[1392,2585],[1438,2789]]],
['23354','24482'],['23354','24477'],['23354','24478'],['23354','28599'],['23354','36029'],['23354','24490'],['23354','24481'],['23354','24525'],
['26160','26189'],['26189','13985'],
['24815','13985',[[867,2934],[902,3108],[1009,3163]]],
['24775','13985',[[703,2934],[760,3065],[888,3152]]],
['24790','13985',[[782,2977],[867,3101]]],
['24791','13985',[[924,3050],[966,3123]]],
['28181','13985',[[1101,3043],[1180,3150]]],
['24786','28167'],['24786','26540'],['24786','36014'],['24786','26177'],['24786','24665'],['28167','27126'],
['26540','13985',[[568,3155]]],['24665','13985',[[817,3145]]],
['24482','23355'],['24477','23355'],['24478','23355'],['24481','23355'],
['24482','24540',[[1516,2615],[1520,2789]]],
['24482','24519',[[1548,2498],[1598,2629]]],
['26161','27256'],['27256','27289'],['27289','27290'],['27290','26926'],['26926','23003'],
['27290','13985',[[1154,2832],[1154,3014],[1222,3108]]],
['23355','24815'],['23355','24820'],['23355','24082'],['23355','24792'],['24082','24492'],
['24492','26172'],['24492','28266'],['26172','26938'],['26172','26274'],['26172','26690'],
['26274','26272'],['26274','26273'],['26274','26677'],['26274','36493'],['26274','31946'],['26274','26676'],
['26272','27779'],['26273','27779'],['26938','26939',[[1790,2999]]],
['26939','13985'],['27779','13985'],
['24491','13985',[[1360,2934]]],['24479','13985'],['24540','13985'],
['24519','13985',[[1619,2920],[1570,3050]]],
['24820','13985',[[1696,3014],[1655,3087]]],
['13985','23046'],['13985','27780'],['13985','27791'],['13985','27804'],['13985','28192'],['13985','40625'],['13985','30619'],['13985','38457'],
['40625','40445'],['40625','38728'],['38457','39177']
];
for(var i=0;i<D.length;i++)ed(D[i][0],D[i][1],D[i][2]);
})();
</script>
</body></html>
